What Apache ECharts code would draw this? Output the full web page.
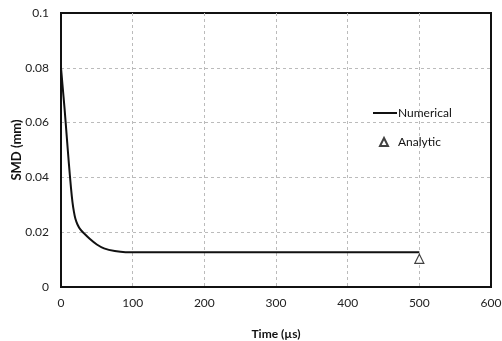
<!DOCTYPE html>
<html>
<head>
<meta charset="utf-8">
<script src="https://cdn.jsdelivr.net/npm/echarts@6/dist/echarts.min.js"></script>
<style>
  html, body { margin: 0; padding: 0; background: #fff; }
  #chart { width: 502px; height: 341px; }
</style>
</head>
<body>
<div id="chart"></div>
<script>
  // time (µs) and SMD (mm)
  const timeNum = [0, 2, 5, 8, 11, 14, 16, 18, 20, 23, 27, 32, 40, 50, 60, 75, 90, 500];
  const smdNum = [0.080, 0.074, 0.065, 0.055, 0.045, 0.036, 0.031, 0.0275, 0.025, 0.0228, 0.021, 0.0196, 0.0176, 0.0155, 0.0141, 0.0131, 0.0127, 0.0127];
  const timeAna = [500];
  const smdAna = [0.0103];
  const xTicks = { min: 0, max: 600, step: 100 };
  const yTicks = { min: 0, max: 0.1, step: 0.02 };

  const font = 'Lato, "Open Sans", sans-serif';
  const chart = echarts.init(document.getElementById('chart'));

  chart.setOption({
    animation: false,
    backgroundColor: '#fff',
    grid: {
      left: 61, right: 11, top: 13, bottom: 54,
      outerBoundsMode: 'none',
      show: true, borderColor: '#111', borderWidth: 2
    },
    legend: [{
      left: 368, top: 102,
      itemWidth: 24, itemHeight: 2, itemGap: 0,
      icon: 'rect',
      data: ['Numerical'],
      textStyle: { fontFamily: font, fontSize: 12, color: '#111', padding: [0, 0, 0, -4] }
    }, {
      left: 374, top: 131,
      itemWidth: 8, itemHeight: 8,
      data: [{ name: 'Analytic', icon: 'triangle' }],
      textStyle: { fontFamily: font, fontSize: 12, color: '#111', padding: [0, 0, 0, 5] }
    }],
    xAxis: {
      type: 'value',
      min: xTicks.min, max: xTicks.max, interval: xTicks.step,
      name: 'Time (µs)',
      nameLocation: 'middle', nameGap: 41,
      nameTextStyle: { fontFamily: font, fontSize: 12, fontWeight: 'bold', color: '#111' },
      axisLine: { show: true, lineStyle: { color: '#111', width: 2 } },
      axisTick: { show: false },
      axisLabel: { fontFamily: font, fontSize: 12, color: '#222', margin: 10 },
      splitLine: { show: true, showMinLine: false, showMaxLine: false, lineStyle: { color: '#bbb', type: [3, 3], width: 1 } }
    },
    yAxis: {
      type: 'value',
      min: yTicks.min, max: yTicks.max, interval: yTicks.step,
      name: 'SMD (mm)',
      nameLocation: 'middle', nameGap: 38, nameMoveOverlap: false,
      nameTextStyle: { fontFamily: font, fontSize: 13, fontWeight: 'bold', color: '#111' },
      axisLine: { show: true, lineStyle: { color: '#111', width: 2 } },
      axisTick: { show: false },
      axisLabel: { fontFamily: font, fontSize: 12, color: '#222', margin: 12 },
      splitLine: { show: true, showMinLine: false, showMaxLine: false, lineStyle: { color: '#bbb', type: [3, 3], width: 1 } }
    },
    series: [{
      name: 'Numerical',
      type: 'line',
      smooth: 0.3,
      showSymbol: false,
      symbol: 'none',
      lineStyle: { color: '#111', width: 2 },
      itemStyle: { color: '#111' },
      data: timeNum.map((t, i) => [t, smdNum[i]])
    }, {
      name: 'Analytic',
      type: 'scatter',
      symbol: 'triangle',
      symbolSize: 9,
      itemStyle: { color: '#fff', borderColor: '#111', borderWidth: 1.2 },
      data: timeAna.map((t, i) => [t, smdAna[i]])
    }]
  });
</script>
</body>
</html>
